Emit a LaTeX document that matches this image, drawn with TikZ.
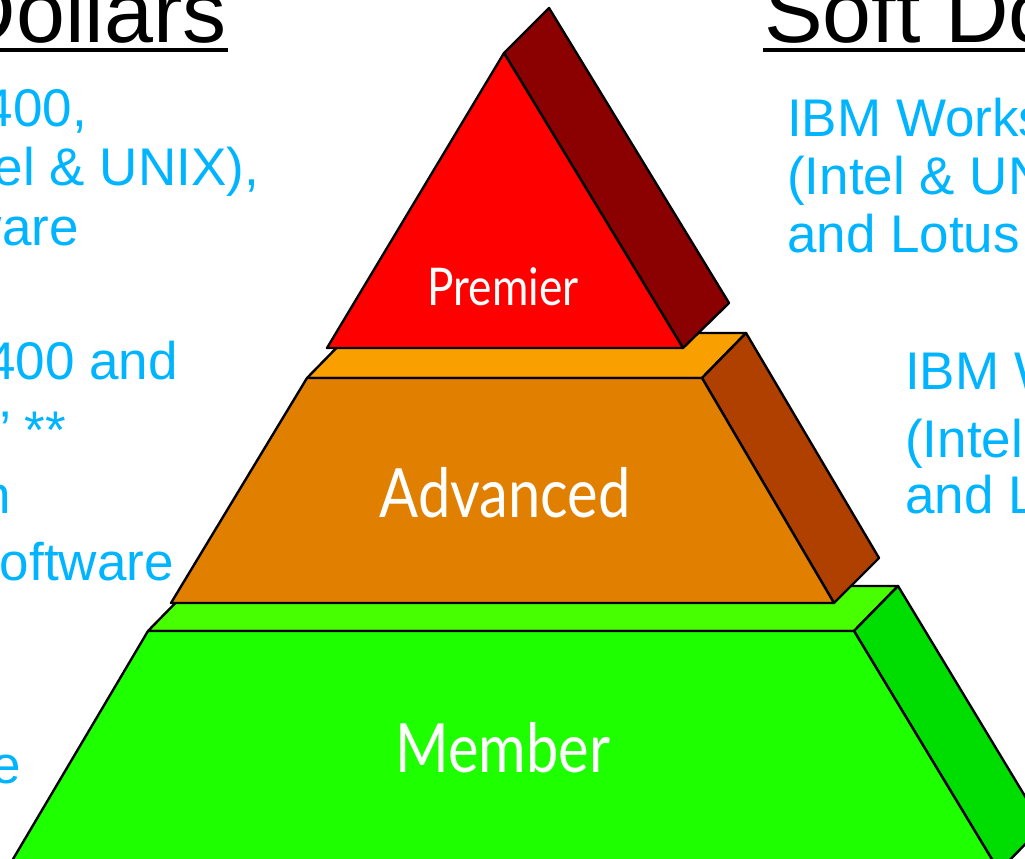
\documentclass[tikz,border=0pt]{standalone}
\usepackage{fontspec}
\setmainfont{Liberation Sans}
\newfontfamily\tierfont[FakeStretch=0.85]{Lato}
\definecolor{noteblue}{RGB}{0,180,255}
\definecolor{premfront}{RGB}{255,0,0}
\definecolor{premside}{RGB}{139,0,0}
\definecolor{advtop}{RGB}{249,160,0}
\definecolor{advfront}{RGB}{224,127,0}
\definecolor{advside}{RGB}{176,64,0}
\definecolor{memtop}{RGB}{72,255,0}
\definecolor{memfront}{RGB}{30,255,0}
\definecolor{memside}{RGB}{0,221,0}
\begin{document}
\begin{tikzpicture}[x=1pt,y=-1pt,line width=2.4pt,line join=round,
  face/.style={draw=black},
  heading/.style={font=\fontsize{88}{88}\selectfont,inner sep=0pt,text=black},
  note/.style={font=\fontsize{53}{59}\selectfont,inner sep=0pt,text=noteblue},
  tier/.style={font=\tierfont\fontsize{68}{68}\selectfont,inner sep=0pt,text=white},
  smalltier/.style={tier,font=\tierfont\fontsize{52}{52}\selectfont}]
\useasboundingbox (0,0) rectangle (1025,859);
\clip (0,0) rectangle (1025,859);

% Member tier (bottom block)
\filldraw[face,fill=memtop]   (148,631) -- (854,631) -- (898,586) -- (192,586) -- cycle;
\filldraw[face,fill=memside]  (854,631) -- (898,586) -- (1043,826) -- (999,871) -- cycle;
\filldraw[face,fill=memfront] (148,631) -- (854,631) -- (999,871) -- (6,871) -- cycle;

% Advanced tier (middle block)
\filldraw[face,fill=advtop]   (307,378) -- (702,378) -- (746,333) -- (351,333) -- cycle;
\filldraw[face,fill=advside]  (702,378) -- (746,333) -- (879,558) -- (834,603) -- cycle;
\filldraw[face,fill=advfront] (307,378) -- (702,378) -- (834,603) -- (171,603) -- cycle;

% Premier tier (top block)
\filldraw[face,fill=premside]  (504,53) -- (549,8) -- (729,303) -- (683,348) -- cycle;
\filldraw[face,fill=premfront] (504,53) -- (683,348) -- (327,348) -- cycle;

% Tier labels
\node[smalltier,anchor=base] (lprem) at (503,305) {Premier};
\node[tier,anchor=base] (ladv)  at (505,517) {Advanced};
\node[tier,anchor=base] (lmem)  at (503,772) {Member};

% Column headings
\node[heading,anchor=base east] (hhard) at (228,43) {Dollars};
\draw[line width=4pt] ([yshift=-7pt]hhard.base west) -- ([yshift=-7pt]hhard.base east);
\node[heading,anchor=base west] (hsoft) at (763,43) {Soft Do};
\draw[line width=4pt] ([yshift=-7pt]hsoft.base west) -- ([yshift=-7pt]hsoft.base east);

% Left column notes
\node[note,anchor=base east] (l1) at (88,126)  {400,};
\node[note,anchor=base east] (l2) at (260,185) {el \& UNIX),};
\node[note,anchor=base east] (l3) at (80,245)  {ware};
\node[note,anchor=base east] (l4) at (179,379) {400 and};
\node[note,anchor=base east] (l5) at (67,448)  {\char34{} **};
\node[note,anchor=base east] (l6) at (12,513)  {n};
\node[note,anchor=base east] (l7) at (175,580) {oftware};
\node[note,anchor=base east] (l8) at (22,783)  {e};

% Right column notes
\node[note,anchor=base west] (r1) at (786,136) {IBM Works};
\node[note,anchor=base west] (r2) at (786,194) {(Intel \& UN};
\node[note,anchor=base west] (r3) at (786,252) {and Lotus};
\node[note,anchor=base west] (r4) at (904,389) {IBM W};
\node[note,anchor=base west] (r5) at (904,457) {(Intel};
\node[note,anchor=base west] (r6) at (904,513) {and L};
\end{tikzpicture}
\end{document}
